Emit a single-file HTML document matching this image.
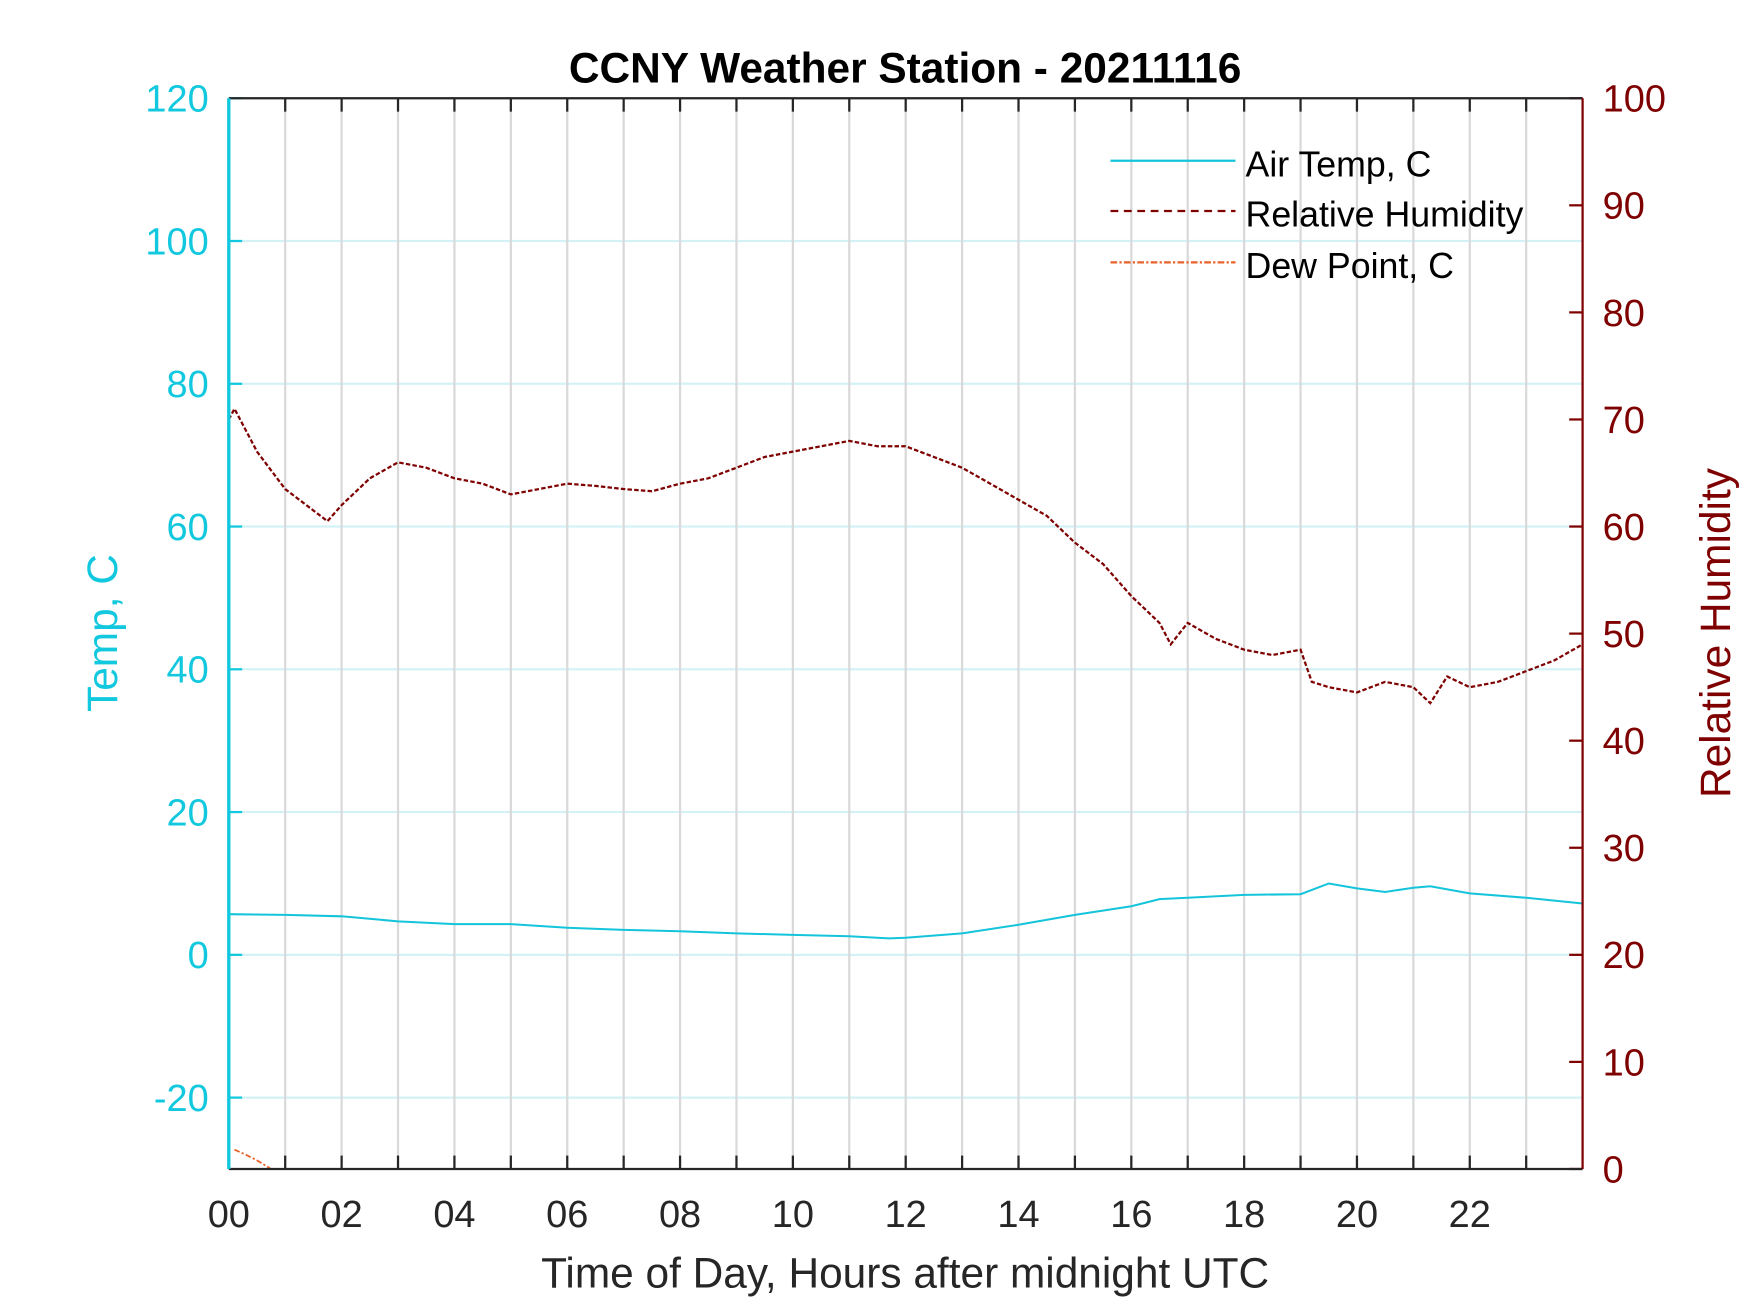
<!DOCTYPE html>
<html><head><meta charset="utf-8"><style>
html,body{margin:0;padding:0;background:#fff;}
svg{display:block;font-family:"Liberation Sans",Arial,sans-serif;}
</style></head><body>
<svg id="chart" width="1750" height="1313" viewBox="0 0 1568 1176" preserveAspectRatio="none" xmlns="http://www.w3.org/2000/svg">
<rect width="1568" height="1176" fill="#fff"/>
<defs><clipPath id="clip"><rect x="205" y="88" width="1213" height="959"/></clipPath></defs>
<g id="grid"></g>
<g id="series" clip-path="url(#clip)"></g>
<g id="axes"></g>
<text x="811" y="74" text-anchor="middle" font-size="38" font-weight="bold" fill="#000">CCNY Weather Station - 20211116</text>
<text x="811" y="1153" text-anchor="middle" font-size="38" fill="#262626">Time of Day, Hours after midnight UTC</text>
<text transform="translate(105,567) rotate(-90)" text-anchor="middle" font-size="38" fill="#12c8de">Temp, C</text>
<text transform="translate(1550,567) rotate(-90)" text-anchor="middle" font-size="38" fill="#7f0000">Relative Humidity</text>
<g>
<line x1="995" y1="144" x2="1107" y2="144" stroke="#14c4da" stroke-width="2"/>
<text x="1116" y="158" font-size="32" fill="#000">Air Temp, C</text>
<line x1="995" y1="189" x2="1107" y2="189" stroke="#7f0000" stroke-width="2" stroke-dasharray="7,5"/>
<text x="1116" y="203" font-size="32" fill="#000">Relative Humidity</text>
<line x1="995" y1="235" x2="1107" y2="235" stroke="#e8622a" stroke-width="2" stroke-dasharray="6,2,2,2"/>
<text x="1116" y="249" font-size="32" fill="#000">Dew Point, C</text>
</g>
</svg>
<script>
const tempHours=[0,1,2,3,4,5,6,7,8,9,10,11,11.7,12,13,14,15,16,16.5,17,18,19,19.5,20,20.5,21,21.3,22,23,24];
const tempValues=[5.7,5.6,5.4,4.7,4.3,4.3,3.8,3.5,3.3,3.0,2.8,2.6,2.3,2.4,3.0,4.2,5.6,6.8,7.8,8.0,8.4,8.5,10.0,9.3,8.8,9.4,9.6,8.6,8.0,7.2];
const rhHours=[0,0.1,0.5,1,1.5,1.75,2,2.5,3,3.5,4,4.5,5,5.5,6,6.5,7,7.5,8,8.5,9,9.5,10,10.5,11,11.5,12,12.5,13,13.5,14,14.5,15,15.5,16,16.5,16.7,17,17.5,18,18.5,19,19.2,19.5,20,20.5,21,21.3,21.6,22,22.5,23,23.5,24];
const rhValues=[70,71,67,63.5,61.5,60.5,62,64.5,66,65.5,64.5,64,63,63.5,64,63.8,63.5,63.3,64,64.5,65.5,66.5,67,67.5,68,67.5,67.5,66.5,65.5,64,62.5,61,58.5,56.5,53.5,51,49,51,49.5,48.5,48,48.5,45.5,45,44.5,45.5,45,43.5,46,45,45.5,46.5,47.5,49];
const dewHours=[0.1,0.3,0.5,0.75];
const dewValues=[-27.3,-28,-28.8,-30];
const tempTicks=[-20,0,20,40,60,80,100,120];
const rhTicks=[0,10,20,30,40,50,60,70,80,90,100];
const xTickLabels=["00","02","04","06","08","10","12","14","16","18","20","22"];

const X0=205,X1=1418,Y0=88,Y1=1047;
const xs=h=>X0+h*(X1-X0)/24;
const yT=v=>Y1-(v+30)*(Y1-Y0)/150;
const yR=v=>Y1-v*(Y1-Y0)/100;
const NS="http://www.w3.org/2000/svg";
function mk(tag,attrs,parent){const e=document.createElementNS(NS,tag);for(const k in attrs)e.setAttribute(k,attrs[k]);parent.appendChild(e);return e;}
const grid=document.getElementById('grid'),axes=document.getElementById('axes'),series=document.getElementById('series');
tempTicks.forEach(v=>{const l=mk('line',{x1:X0,x2:X1,y1:yT(v),y2:yT(v),stroke:'#d4f2f6','stroke-width':2},grid);


const t=mk('text',{x:187,y:yT(v)+12,'text-anchor':'end','font-size':34,fill:'#12c8de'},axes);t.textContent=v;

});
for(let h=1;h<24;h++){const l=mk('line',{x1:xs(h),x2:xs(h),y1:Y0,y2:Y1,stroke:'#d9d9d9','stroke-width':2},grid);


mk('line',{x1:xs(h),x2:xs(h),y1:Y0,y2:Y0+12,stroke:'#262626','stroke-width':2},axes);
mk('line',{x1:xs(h),x2:xs(h),y1:Y1,y2:Y1-12,stroke:'#262626','stroke-width':2},axes);}
xTickLabels.forEach((s,i)=>{const t=mk('text',{x:xs(i*2),y:1099,'text-anchor':'middle','font-size':34,fill:'#262626'},axes);t.textContent=s;

});
rhTicks.forEach(v=>{mk('line',{x1:X1,x2:X1-12,y1:yR(v),y2:yR(v),stroke:'#7f0000','stroke-width':2},axes);
const t=mk('text',{x:1436,y:yR(v)+12,'font-size':34,fill:'#7f0000'},axes);t.textContent=v;

});
tempTicks.forEach(v=>mk('line',{x1:X0,x2:X0+12,y1:yT(v),y2:yT(v),stroke:'#12c8de','stroke-width':2},axes));
mk('line',{x1:X0,x2:X1,y1:Y0,y2:Y0,stroke:'#262626','stroke-width':2},axes);
mk('line',{x1:X0,x2:X1,y1:Y1,y2:Y1,stroke:'#262626','stroke-width':2},axes);
mk('line',{x1:X0,x2:X0,y1:Y0,y2:Y1,stroke:'#12c8de','stroke-width':3},axes);
mk('line',{x1:X1,x2:X1,y1:Y0,y2:Y1,stroke:'#7f0000','stroke-width':2},axes);
function path(hs,vs,yf){return hs.map((h,i)=>(i?'L':'M')+xs(h).toFixed(1)+','+yf(vs[i]).toFixed(1)).join('');}
const pT=mk('path',{d:path(tempHours,tempValues,yT),fill:'none',stroke:'#14c4da','stroke-width':1.8},series);


const pR=mk('path',{d:path(rhHours,rhValues,yR),fill:'none',stroke:'#7f0000','stroke-width':2,'stroke-dasharray':'4,2'},series);


const pD=mk('path',{d:path(dewHours,dewValues,yT),fill:'none',stroke:'#e8622a','stroke-width':1.6,'stroke-dasharray':'5,2,2,2'},series);


</script>
</body></html>
